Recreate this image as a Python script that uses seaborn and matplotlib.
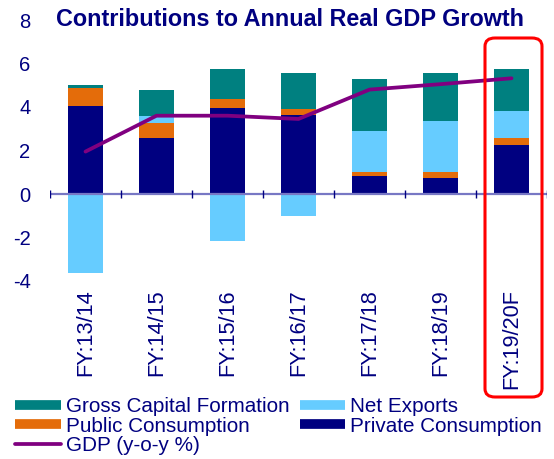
import numpy as np
import pandas as pd
import matplotlib
matplotlib.use("Agg")
import matplotlib.pyplot as plt
from matplotlib.patches import FancyBboxPatch
from matplotlib.lines import Line2D
import seaborn as sns

# -------------------
# Data
# -------------------
years = ["FY:13/14", "FY:14/15", "FY:15/16", "FY:16/17", "FY:17/18", "FY:18/19", "FY:19/20F"]
private_cons = [4.06, 2.57, 3.95, 3.62, 0.85, 0.72, 2.25]
public_cons = [0.83, 0.69, 0.40, 0.27, 0.15, 0.28, 0.32]
net_exports = [-3.62, 0.31, -2.18, -1.00, 1.91, 2.34, 1.23]
gross_capital = [0.14, 1.20, 1.39, 1.68, 2.40, 2.21, 1.97]
gdp_growth = [1.95, 3.60, 3.60, 3.45, 4.80, 5.05, 5.32]

yticks = [-4, -2, 0, 2, 4, 6, 8]

c_gcf = "#008080"
c_nx = "#66CCFF"
c_pub = "#E46C0A"
c_priv = "#000080"
c_gdp = "#800080"
navy = "#000080"

sns.set_style("white")
plt.rcParams["font.family"] = ["Liberation Sans", "DejaVu Sans"]

df = pd.DataFrame({
    "year": years,
    "private": private_cons,
    "public": public_cons,
    "nx": net_exports,
    "gcf": gross_capital,
    "gdp": gdp_growth,
})
df["nx_pos"] = df["nx"].clip(lower=0)
df["nx_neg"] = df["nx"].clip(upper=0)
df["base_pub"] = df["private"]
df["base_nx"] = df["private"] + df["public"]
df["base_gcf"] = df["private"] + df["public"] + df["nx_pos"]

fig = plt.figure(figsize=(5.54, 4.59), dpi=100)
ax = fig.add_axes([50 / 554, 1 - 281 / 459, 497 / 554, 261 / 459])

common = dict(x="year", order=years, width=0.5, saturation=1, errorbar=None,
              linewidth=0, ax=ax)
sns.barplot(data=df, y="private", color=c_priv, **common)
sns.barplot(data=df, y="public", bottom=df["base_pub"].values, color=c_pub, **common)
sns.barplot(data=df, y="nx_pos", bottom=df["base_nx"].values, color=c_nx, **common)
sns.barplot(data=df, y="nx_neg", color=c_nx, **common)
sns.barplot(data=df, y="gcf", bottom=df["base_gcf"].values, color=c_gcf, **common)
sns.lineplot(x=np.arange(len(years)), y=df["gdp"].values, color=c_gdp, lw=2.7, ax=ax)

# zero line with category separators
ax.axhline(0, color="#7777C4", lw=1.6, zorder=3)
bounds = np.arange(len(years) + 1) - 0.5
ax.vlines(bounds, -0.2, 0.2, color=navy, lw=1.0, zorder=4)

ax.set_xlim(-0.5, len(years) - 0.5)
ax.set_ylim(-4, 8)
ax.set_yticks(yticks)
ax.set_yticklabels([str(t) for t in yticks])
ax.set_xlabel("")
ax.set_ylabel("")
ax.tick_params(axis="y", length=0, pad=14, labelsize=14.5, labelcolor=navy)
ax.tick_params(axis="x", length=0, pad=6, labelsize=15.7, labelcolor=navy)
plt.setp(ax.get_xticklabels(), rotation=90, va="top", ha="center")
for s in ax.spines.values():
    s.set_visible(False)
ax.patch.set_alpha(0)

fig.text(290 / 554, 1 - 20 / 459, "Contributions to Annual Real GDP Growth",
         ha="center", va="center", fontsize=16.8, fontweight="bold", color=navy)

# red highlight box around the forecast year
box = FancyBboxPatch((485 / 554, 1 - 397 / 459), 57 / 554, 359 / 459,
                     boxstyle="round,pad=0,rounding_size=0.018",
                     transform=fig.transFigure, fill=False, ec="#FF0000", lw=2.2,
                     zorder=10)
fig.patches.append(box)

# legend
handles = [
    Line2D([], [], color=c_gcf, lw=7, solid_capstyle="butt"),
    Line2D([], [], color=c_pub, lw=7, solid_capstyle="butt"),
    Line2D([], [], color=c_gdp, lw=2.7),
    Line2D([], [], color=c_nx, lw=7, solid_capstyle="butt"),
    Line2D([], [], color=c_priv, lw=7, solid_capstyle="butt"),
]
labels = ["Gross Capital Formation", "Public Consumption", "GDP (y-o-y %)",
          "Net Exports", "Private Consumption"]
leg = fig.legend(handles, labels, ncol=2, loc="upper left",
                 bbox_to_anchor=(11 / 554, 1 - 393 / 459), frameon=False,
                 fontsize=14.9, handlelength=2.2, handletextpad=0.24,
                 labelspacing=0.02, columnspacing=0.5, borderpad=0.2,
                 borderaxespad=0)
for t in leg.get_texts():
    t.set_color(navy)

fig.savefig("out.png", dpi=100)
plt.close()
